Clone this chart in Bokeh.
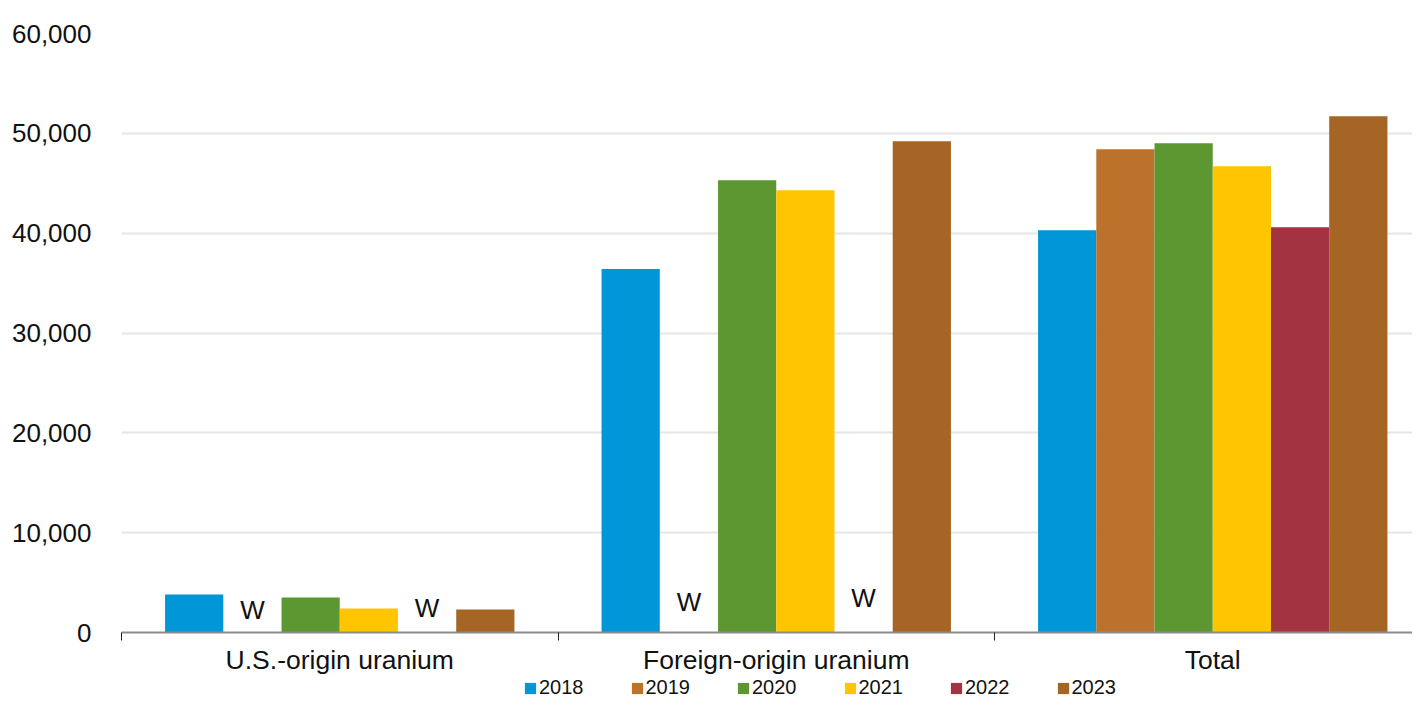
import numpy as np
from bokeh.plotting import figure
from bokeh.layouts import column
from bokeh.models import (ColumnDataSource, Range1d, FixedTicker, SingleIntervalTicker,
                          NumeralTickFormatter, Legend, LegendItem)
from bokeh.transform import dodge
from bokeh.core.properties import value
from bokeh.embed import file_html
from bokeh.resources import INLINE

nan = float("nan")

categories = ["U.S.-origin uranium", "Foreign-origin uranium", "Total"]
years = ["2018", "2019", "2020", "2021", "2022", "2023"]
v2018 = [3800, 36400, 40300]
v2019 = [nan, nan, 48400]
v2020 = [3500, 45300, 49000]
v2021 = [2400, 44300, 46700]
v2022 = [nan, nan, 40600]
v2023 = [2300, 49200, 51700]
colors = ["#0096D7", "#BC722B", "#5D9732", "#FFC600", "#A33340", "#A56524"]

withheld_cat = [0, 0, 1, 1]
withheld_year = ["2019", "2022", "2019", "2022"]
withheld_label = ["W", "W", "W", "W"]
withheld_y = [2300, 2500, 3100, 3500]

y_tick_step = 10000
y_max = 60000

FONT = "Liberation Sans"
bw = 0.1334
W = 1412
H_MAIN = 677
H_LEG = 23
LEFT = 121

cat_x = np.arange(len(categories)) + 0.5
src = ColumnDataSource(dict(x=cat_x, cat=categories,
                            **{"2018": v2018, "2019": v2019, "2020": v2020,
                               "2021": v2021, "2022": v2022, "2023": v2023}))

p = figure(width=W, height=H_MAIN, output_backend="svg", toolbar_location=None,
           x_range=Range1d(0, (W - LEFT) / 436.5), y_range=Range1d(0, y_max),
           min_border_left=LEFT, min_border_right=0, min_border_top=33,
           min_border_bottom=H_MAIN - 633)
p.outline_line_color = None
p.background_fill_color = "white"

for j, yr in enumerate(years):
    p.vbar(x=dodge("x", (j - 2.5) * bw, range=p.x_range), top=yr, width=bw,
           source=src, fill_color=colors[j], line_color=None)

wx = np.array(withheld_cat) + 0.5 + (np.array([years.index(y) for y in withheld_year]) - 2.5) * bw
wsrc = ColumnDataSource(dict(x=wx, y=withheld_y, t=withheld_label))
p.text(x="x", y="y", text="t", source=wsrc, text_align="center", text_baseline="middle",
       text_font=value(FONT), text_font_size="26px", text_color="#111111")

# x axis
p.xaxis.ticker = FixedTicker(ticks=list(cat_x), minor_ticks=[0, 1, 2, 3])
p.xaxis.major_label_overrides = {float(c): n for c, n in zip(cat_x, categories)}
p.xaxis.major_tick_line_color = None
p.xaxis.major_tick_out = 0
p.xaxis.major_tick_in = 0
p.xaxis.minor_tick_out = 8
p.xaxis.minor_tick_in = 0
p.xaxis.minor_tick_line_color = "#222222"
p.xaxis.axis_line_color = "#8c8c8c"
p.xaxis.axis_line_width = 2
p.xaxis.major_label_standoff = 4
p.xaxis.major_label_text_font = FONT
p.xaxis.major_label_text_font_size = "26.5px"
p.xaxis.major_label_text_color = "#111111"

# y axis
p.yaxis.ticker = SingleIntervalTicker(interval=y_tick_step)
p.yaxis.formatter = NumeralTickFormatter(format="0,0")
p.yaxis.axis_line_color = None
p.yaxis.major_tick_line_color = None
p.yaxis.minor_tick_line_color = None
p.yaxis.major_label_standoff = 24
p.yaxis.major_label_text_font = FONT
p.yaxis.major_label_text_font_size = "26px"
p.yaxis.major_label_text_color = "#111111"

p.xgrid.grid_line_color = None
p.ygrid.grid_line_color = "#e6e6e6"
p.ygrid.grid_line_width = 2

# legend strip below the chart (frames are aligned by the column layout)
lg = figure(width=W, height=H_LEG, output_backend="svg", toolbar_location=None,
            x_range=Range1d(0, 1), y_range=Range1d(0, 1),
            x_axis_type=None, y_axis_type=None, min_border=0, min_border_left=LEFT)
lg.outline_line_color = None
lg.xgrid.grid_line_color = None
lg.ygrid.grid_line_color = None
leg_renderers = []
for j, yr in enumerate(years):
    leg_renderers.append(lg.vbar(x=[0.5], top=[nan], width=0.1,
                                 fill_color=colors[j], line_color=None))

legend = Legend(items=[LegendItem(label=yr, renderers=[r]) for yr, r in zip(years, leg_renderers)],
                orientation="horizontal", location=(523 - LEFT, 1),
                glyph_width=14, glyph_height=14, label_standoff=2, spacing=46,
                padding=0, margin=0, border_line_color=None, background_fill_alpha=0,
                label_text_font=FONT, label_text_font_size="20px", label_text_color="#111111",
                label_text_line_height=1.0, label_height=18)
lg.add_layout(legend, "center")

layout = column(p, lg, spacing=0)
open("out.html", "w").write(file_html(layout, INLINE))
